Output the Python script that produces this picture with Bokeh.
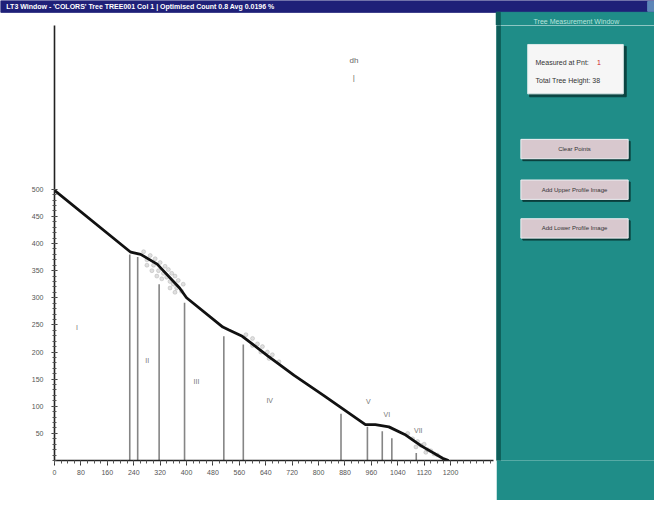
from bokeh.plotting import figure
from bokeh.layouts import column, row
from bokeh.models import Range1d, FixedTicker
from bokeh.core.properties import value
from bokeh.embed import file_html
from bokeh.resources import INLINE

# ---------------- data ----------------
curve_x = [0, 231, 261, 311, 379, 400, 510, 527, 569, 646, 726, 815, 942, 972, 1013, 1061, 1111, 1176, 1194]
curve_y = [498, 384, 380, 362, 318, 300, 246, 241, 229, 193, 157, 120, 66, 66, 62, 48, 27, 4, 0]

vline_x = [228, 252, 317, 394, 513, 572, 868, 948, 993, 1022, 1096]
vline_top = [380, 375, 325, 291, 229, 214, 86, 62, 54, 41, 14]

haze_x = [270, 280, 290, 300, 305, 315, 320, 330, 335, 340, 345, 350, 355, 360, 365, 370, 375, 385, 390,
          280, 295, 310, 325, 350, 365,
          580, 600, 615, 630, 645, 660, 600, 625, 650, 680,
          1070, 1085, 1100, 1110, 1120, 1130, 1140, 1150, 1160, 1095, 1125]
haze_y = [385, 370, 378, 360, 372, 350, 365, 345, 358, 338, 352, 330, 345, 325, 340, 318, 332, 312, 325,
          360, 350, 340, 335, 318, 310,
          232, 225, 215, 210, 200, 195, 212, 200, 188, 182,
          50, 40, 35, 28, 30, 20, 18, 12, 10, 25, 15]

zone_labels = ["I", "II", "III", "IV", "V", "VI", "VII"]
zone_x = [68, 281, 430, 652, 951, 1007, 1102]
zone_y = [245, 184, 146, 111, 109, 84, 55]

x_ticks = list(range(0, 1201, 80))
y_ticks = list(range(50, 501, 50))

title_text = "LT3 Window - 'COLORS' Tree TREE001 Col 1   |   Optimised Count 0.8  Avg 0.0196 %"
panel_title = "Tree Measurement Window"
info_lines = ["Measured at Pnt:", "Total Tree Height:  38"]
info_red = "1"
buttons = ["Clear Points", "Add Upper Profile Image", "Add Lower Profile Image"]

FONT = value("Liberation Sans")
TEAL = "#1f8d88"
DARK_TEAL = "#0f5e5a"
BB = 40                       # bottom border of the plot row (x-axis labels)
REF_TOP = 25.4                # reference y where the row starts
REF_BOT = 12 + 448 * 504 / 488

# ---------------- title bar + panel header strip ----------------
tb = figure(width=654, height=25, x_range=Range1d(0, 670), y_range=Range1d(REF_TOP, 0),
            output_backend="svg", toolbar_location=None, x_axis_type=None, y_axis_type=None,
            min_border=0)
tb.background_fill_color = "white"
tb.border_fill_color = "white"
tb.outline_line_color = None
tb.grid.visible = False
tb.quad(left=[0], right=[670], top=[0], bottom=[12], color="#1f2078")
tb.quad(left=[508], right=[670], top=[12], bottom=[REF_TOP + 1], color=TEAL)
tb.quad(left=[508], right=[512], top=[12], bottom=[REF_TOP + 1], color=DARK_TEAL)
tb.text(x=[6], y=[6.5], text=[title_text], text_color="white", text_font_size="7px",
        text_font_style="bold", text_baseline="middle", text_font=FONT)
tb.quad(left=[663], right=[670], top=[1], bottom=[11], color="#5d86b8")
tb.text(x=[590], y=[21], text=[panel_title], text_font_size="7px", text_color="#b9e4dc",
        text_align="center", text_baseline="middle", text_font=FONT)

# ---------------- main plot ----------------
p = figure(width=496, height=475, x_range=Range1d(0, 1330), y_range=Range1d(0, 802),
           output_backend="svg", toolbar_location=None,
           min_border_left=54, min_border_right=3, min_border_top=0, min_border_bottom=BB)
p.background_fill_color = "white"
p.border_fill_color = "white"
p.outline_line_color = None
p.grid.visible = False

p.xaxis.ticker = FixedTicker(ticks=x_ticks, minor_ticks=list(range(0, 1321, 20)))
p.yaxis.ticker = FixedTicker(ticks=y_ticks, minor_ticks=list(range(0, 501, 10)))
for ax in (p.xaxis, p.yaxis):
    ax.axis_line_width = 1.6
    ax.axis_line_color = "#222222"
    ax.major_tick_line_color = "#333333"
    ax.minor_tick_line_color = "#555555"
    ax.major_label_text_font_size = "7px"
    ax.major_label_text_color = "#555555"
    ax.major_label_text_font = "Liberation Sans"
p.xaxis.major_tick_in = 0
p.xaxis.major_tick_out = 5
p.xaxis.minor_tick_in = 0
p.xaxis.minor_tick_out = 3
p.xaxis.major_label_standoff = 4
p.yaxis.major_tick_in = 3
p.yaxis.major_tick_out = 3
p.yaxis.minor_tick_in = 2
p.yaxis.minor_tick_out = 2
p.yaxis.major_label_standoff = 8

p.segment(x0=vline_x, y0=[0] * len(vline_x), x1=vline_x, y1=vline_top,
          line_color="#858585", line_width=1.6)
p.scatter(haze_x, haze_y, size=4, color="#808080", alpha=0.25)
p.line(curve_x, curve_y, line_width=2.8, line_color="#111111")
p.text(x=zone_x, y=zone_y, text=zone_labels, text_font_size="7px", text_color="#777777",
       text_align="center", text_baseline="middle", text_font=FONT)
p.text(x=[907, 907], y=[737, 707], text=["dh", "|"], text_font_size="8px", text_color="#666666",
       text_align="center", text_baseline="middle", text_font=FONT)

# ---------------- right panel (frame aligned with the plot's frame) ----------------
pn = figure(width=158, height=475, x_range=Range1d(508, 670), y_range=Range1d(REF_BOT, REF_TOP),
            output_backend="svg", toolbar_location=None, x_axis_type=None, y_axis_type=None,
            min_border_left=0, min_border_right=0, min_border_top=0, min_border_bottom=BB)
pn.background_fill_color = TEAL
pn.border_fill_color = TEAL
pn.outline_line_color = None
pn.grid.visible = False
pn.quad(left=[508], right=[512], top=[0], bottom=[520], color=DARK_TEAL)

# info box
pn.quad(left=[542], right=[641], top=[47], bottom=[99], color="#0b4542")
pn.quad(left=[540], right=[638], top=[45], bottom=[96], fill_color="#f6f6f6", line_color="#dbeaea")
pn.text(x=[548, 548], y=[64, 82], text=info_lines, text_font_size="7px", text_color="#333333",
        text_baseline="middle", text_font=FONT)
pn.text(x=[611], y=[64], text=[info_red], text_font_size="7px", text_color="#d02020",
        text_baseline="middle", text_font=FONT)

# buttons
btn_top = [143, 185, 225]
btn_bot = [163, 205, 245]
pn.quad(left=[535] * 3, right=[645] * 3, top=[t + 2 for t in btn_top], bottom=[b + 2 for b in btn_bot],
        color="#0a3e3b")
pn.quad(left=[533] * 3, right=[643] * 3, top=btn_top, bottom=btn_bot,
        fill_color="#d8c8ce", line_color="#f0f0f4", line_width=1)
pn.text(x=[588] * 3, y=[(t + b) / 2 for t, b in zip(btn_top, btn_bot)], text=buttons,
        text_font_size="6px", text_color="#333333", text_align="center", text_baseline="middle",
        text_font=FONT)

layout = column(tb, row(p, pn))
open("out.html", "w").write(file_html(layout, INLINE))
